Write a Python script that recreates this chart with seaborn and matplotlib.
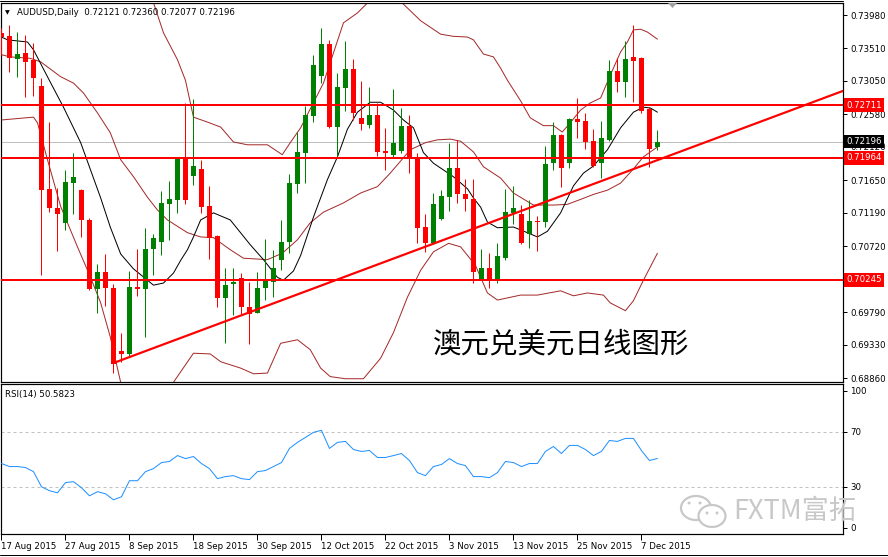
import matplotlib
matplotlib.use("Agg")
import matplotlib.pyplot as plt
import matplotlib.transforms as mtrans
from matplotlib.patches import Ellipse, Polygon
import numpy as np
import pandas as pd
import seaborn as sns

# ---------------- data ----------------
symbol_title = "AUDUSD,Daily"
last_ohlc = ["0.72121", "0.72360", "0.72077", "0.72196"]

opens = [0.73727,0.73684,0.73360,0.73444,0.73346,0.72979,0.71526,0.71258,0.71047,0.71611,
         0.71512,0.71089,0.70116,0.70356,0.70130,0.69242,0.69199,0.70144,0.70116,0.70680,
         0.70779,0.71315,0.71371,0.71964,0.71709,0.71808,0.71287,0.70863,0.69989,0.70187,
         0.70271,0.69862,0.69778,0.70130,0.70215,0.70525,0.70779,0.71597,0.72034,0.72556,
         0.73120,0.73571,0.72401,0.72951,0.73219,0.72528,0.72429,0.72570,0.72062,0.72006,
         0.72062,0.72415,0.71964,0.70990,0.70765,0.71103,0.71414,0.71822,0.71456,0.71385,
         0.70243,0.70413,0.70257,0.70553,0.71188,0.71174,0.70892,0.71075,0.71061,0.71893,
         0.72288,0.71893,0.72514,0.72485,0.72203,0.71893,0.72218,0.73191,0.73035,0.73388,
         0.73374,0.72655,0.72121]
highs = [0.73797,0.73839,0.73741,0.73698,0.73585,0.73092,0.72471,0.71540,0.71794,0.72034,
         0.71526,0.71117,0.70469,0.70610,0.70187,0.69496,0.70370,0.70680,0.70976,0.70892,
         0.71498,0.71639,0.71978,0.72739,0.72796,0.71935,0.71569,0.70878,0.70413,0.70413,
         0.70342,0.70215,0.70356,0.70821,0.70666,0.71089,0.71738,0.72330,0.72697,0.73416,
         0.73797,0.73628,0.73162,0.73614,0.73360,0.73050,0.72965,0.72739,0.72387,0.72937,
         0.72669,0.72570,0.72034,0.71174,0.71470,0.71512,0.72175,0.72218,0.71667,0.71667,
         0.70680,0.70624,0.70765,0.71526,0.71569,0.71301,0.71371,0.71145,0.72133,0.72471,
         0.72302,0.72528,0.72810,0.72598,0.72373,0.72485,0.73346,0.73374,0.73614,0.73839,
         0.73388,0.72683,0.72360]
lows = [0.73416,0.73177,0.73106,0.72824,0.72838,0.70314,0.71202,0.70652,0.70948,0.71174,
        0.70849,0.70102,0.69778,0.69876,0.68931,0.69086,0.69157,0.70017,0.69439,0.70314,
        0.70595,0.70807,0.71188,0.71315,0.71583,0.71188,0.70539,0.69862,0.69354,0.69749,
        0.69749,0.69340,0.69778,0.69961,0.70003,0.70384,0.70624,0.71470,0.71611,0.72471,
        0.73021,0.72390,0.71964,0.72626,0.72499,0.72359,0.72387,0.71992,0.71794,0.71964,
        0.72034,0.71752,0.70765,0.70638,0.70750,0.71089,0.71216,0.71329,0.71216,0.70201,
        0.70243,0.70130,0.70201,0.70525,0.71033,0.70750,0.70694,0.70652,0.70990,0.71794,
        0.71555,0.71822,0.72246,0.72091,0.71837,0.71681,0.72203,0.72894,0.72824,0.72753,
        0.72598,0.71837,0.72077]
closes = [0.73670,0.73374,0.73430,0.73318,0.73092,0.71512,0.71258,0.71174,0.71625,0.71695,
          0.71089,0.70116,0.70356,0.70130,0.69058,0.69199,0.70144,0.70116,0.70680,0.70835,
          0.71329,0.71385,0.71964,0.71371,0.71851,0.71272,0.70835,0.69989,0.70172,0.70215,
          0.69862,0.69764,0.70130,0.70257,0.70413,0.70779,0.71611,0.72048,0.72570,0.73275,
          0.73571,0.72401,0.72965,0.73219,0.72598,0.72443,0.72570,0.72048,0.72034,0.72175,
          0.72415,0.71964,0.70976,0.70765,0.71315,0.71428,0.71822,0.71456,0.71385,0.70356,
          0.70413,0.70243,0.70581,0.71202,0.71258,0.70765,0.71075,0.71061,0.71879,0.72288,
          0.71822,0.72514,0.72471,0.72189,0.71851,0.72246,0.73191,0.73035,0.73360,0.73332,
          0.72626,0.72091,0.72196]

# Bollinger bands / moving average (bar index, price)
upper_x = [16.0,18.9,20.25,22.0,23.0,24.0,25.75,27.4,29.0,30.75,33.25,35.1,36.1,37.4,40.25,42.75,
           44.5,45.75,48.0,50.1,52.4,54.9,56.5,58.25,59.0,60.25,61.5,62.4,63.25,64.9,66.1,67.75,
           69.0,70.1,71.1,72.4,73.6,74.9,76.1,77.4,78.25,79.0,79.9,80.75,82.0]
upper_y = [0.7517,0.7419,0.7373,0.7335,0.7306,0.7254,0.7247,0.7240,0.7219,0.7215,0.7215,0.7201,
           0.7218,0.7239,0.7302,0.7387,0.7401,0.7415,0.7440,0.7415,0.7390,0.7371,0.7368,0.7367,
           0.7363,0.7343,0.7339,0.7323,0.7306,0.7277,0.7253,0.7242,0.7242,0.7233,0.7246,0.7264,
           0.7274,0.7281,0.7313,0.7346,0.7360,0.7377,0.7378,0.7374,0.7364]
middle_x = [0.0,1.1,3.6,4.9,7.4,9.0,10.25,12.0,13.6,14.9,16.5,18.25,19.5,20.75,23.25,24.9,26.5,
            28.6,30.25,33.25,35.1,37.0,38.6,40.25,42.75,44.9,47.0,48.6,51.1,53.0,54.5,56.1,57.4,
            59.0,60.25,62.4,64.0,66.5,69.0,70.75,72.4,74.0,75.75,77.4,79.0,80.25,82.0]
middle_y = [0.7342,0.7339,0.7337,0.7332,0.7311,0.7302,0.7288,0.7260,0.7232,0.7194,0.7170,0.7141,
            0.7123,0.7109,0.7091,0.7085,0.7084,0.7067,0.7055,0.7053,0.7062,0.7081,0.7105,0.7120,
            0.7133,0.7147,0.7156,0.7175,0.7208,0.7218,0.7222,0.7223,0.7220,0.7205,0.7184,0.7168,
            0.7147,0.7130,0.7130,0.7131,0.7138,0.7145,0.7151,0.7161,0.7181,0.7198,0.7212]
lower_x = [0.0,4.0,4.5,5.75,7.4,9.5,11.1,12.4,13.6,14.9,18.25,21.5,24.0,26.1,27.4,29.9,31.5,
           33.25,34.9,37.0,38.6,39.9,41.1,43.0,45.25,47.4,49.0,50.75,52.4,54.0,55.9,57.4,59.25,
           60.75,62.0,64.9,67.0,69.9,71.5,73.25,75.25,76.1,78.0,79.0,80.25,82.0]
lower_y = [0.7250,0.7254,0.7246,0.7194,0.7128,0.7071,0.7029,0.6992,0.6944,0.6880,0.6841,0.6880,
           0.6921,0.6920,0.6909,0.6900,0.6892,0.6893,0.6935,0.6940,0.6926,0.6900,0.6888,0.6885,
           0.6885,0.6914,0.6950,0.7000,0.7038,0.7064,0.7076,0.7071,0.7045,0.7006,0.6996,0.7003,
           0.7003,0.7009,0.7002,0.7006,0.7003,0.6992,0.6981,0.6995,0.7024,0.7062]
ma_x = [0.0,0.75,3.25,4.0,5.75,7.75,9.9,12.4,13.6,14.9,16.5,18.25,19.0,20.25,21.5,22.4,23.25,
        24.0,24.9,26.5,28.6,31.1,32.75,34.5,35.25,36.5,37.4,39.0,40.75,42.0,43.25,44.5,46.1,
        47.4,49.0,50.25,51.5,52.75,54.0,56.5,58.25,59.0,59.9,60.75,62.0,64.0,65.75,67.0,68.25,
        69.9,71.5,72.75,74.0,75.75,77.4,79.0,80.25,81.1,82.0]
ma_y = [0.7367,0.7363,0.7360,0.7349,0.7311,0.7268,0.7218,0.7140,0.7099,0.7061,0.7040,0.7024,
        0.7017,0.7020,0.7034,0.7052,0.7067,0.7085,0.7109,0.7119,0.7109,0.7074,0.7053,0.7028,
        0.7024,0.7037,0.7059,0.7113,0.7166,0.7198,0.7237,0.7261,0.7275,0.7275,0.7264,0.7250,
        0.7239,0.7204,0.7189,0.7170,0.7153,0.7140,0.7127,0.7106,0.7098,0.7099,0.7091,0.7085,
        0.7093,0.7119,0.7157,0.7175,0.7185,0.7208,0.7239,0.7261,0.7268,0.7267,0.7261]

rsi = [46.9,44.7,44.7,44.0,41.0,30.0,27.1,25.6,33.0,33.7,29.3,23.4,26.4,24.9,20.5,22.7,34.4,34.4,
       41.0,43.2,47.6,48.4,52.7,50.5,52.0,46.9,43.2,35.9,37.4,38.1,35.9,35.2,41.0,41.8,44.7,47.6,
       57.9,62.3,65.9,69.6,71.1,57.9,62.3,63.0,57.1,55.7,56.4,51.3,51.3,52.7,54.2,49.1,40.3,38.1,
       44.7,46.2,50.5,46.9,45.4,37.4,37.4,36.6,40.3,48.4,47.6,44.7,46.9,46.9,55.7,59.3,54.2,60.1,
       60.1,57.1,52.7,55.7,63.7,63.0,65.2,65.2,56.4,49.1,50.58]

levels = [0.72711, 0.71964, 0.70245]
level_labels = ["0.72711", "0.71964", "0.70245"]
current_price = 0.72196
trend_x = [14.2, 105.2]
trend_y = [0.6908, 0.7291]

price_ticks = [0.73980, 0.73510, 0.73050, 0.72580, 0.72120, 0.71650, 0.71190,
               0.70720, 0.70250, 0.69790, 0.69330, 0.68860]
# the 0.70250 label sits completely under the 0.70245 line label in the original
price_tick_labels = ["0.73980", "0.73510", "0.73050", "0.72580", "0.72120", "0.71650",
                     "0.71190", "0.70720", "", "0.69790", "0.69330", "0.68860"]
rsi_ticks = [0, 30, 70, 100]
date_ticks = [0, 8, 16, 24, 32, 40, 48, 56, 64, 72, 80]
date_labels = ["17 Aug 2015", "27 Aug 2015", "8 Sep 2015", "18 Sep 2015", "30 Sep 2015",
               "12 Oct 2015", "22 Oct 2015", "3 Nov 2015", "13 Nov 2015", "25 Nov 2015",
               "7 Dec 2015"]
chart_title_cn = "澳元兑美元日线图形"
watermark = "FXTM富拓"

# ---------------- style ----------------
sns.set_theme(style="white")
plt.rcParams["font.family"] = ["DejaVu Sans"]
FS = 6.2
PX = 0.72  # one pixel in points

W, H = 888, 557
fig = plt.figure(figsize=(W / 100, H / 100), dpi=100)
fig.patch.set_facecolor("white")


def rect(x0, y0, x1, y1):
    return [x0 / W, 1 - y1 / H, (x1 - x0) / W, (y1 - y0) / H]


ax = fig.add_axes(rect(1, 3, 843, 382))
axr = fig.add_axes(rect(1, 384, 843, 534))

df = pd.DataFrame({"o": opens, "h": highs, "l": lows, "c": closes})
df["i"] = np.arange(len(df))
bull = df["c"] >= df["o"]
cols = np.where(bull, "#008000", "#ff0000")

# wicks and bodies
ax.vlines(df["i"], df["l"], df["h"], colors=cols, linewidth=PX, zorder=3)
body_lo = np.minimum(df["o"], df["c"])
body_h = np.maximum(np.abs(df["c"] - df["o"]), 0.00012)
ax.bar(df["i"], body_h, bottom=body_lo, width=0.63, color=cols, linewidth=0, zorder=4)

# bands and MA
brown = "#a52a2a"
for xs, ys in ((upper_x, upper_y), (middle_x, middle_y), (lower_x, lower_y)):
    sns.lineplot(x=xs, y=ys, ax=ax, color=brown, linewidth=PX, sort=False,
                 estimator=None, zorder=2)
sns.lineplot(x=ma_x, y=ma_y, ax=ax, color="black", linewidth=PX, sort=False,
             estimator=None, zorder=2)

# horizontal levels, current price, trend line
ax.axhline(current_price, color="#c0c0c0", linewidth=PX, zorder=1)
for lv in levels:
    ax.axhline(lv, color="#ff0000", linewidth=2 * PX, zorder=5)
sns.lineplot(x=trend_x, y=trend_y, ax=ax, color="#ff0000", linewidth=2.2 * PX,
             sort=False, estimator=None, zorder=5)

ax.set_xlim(-0.06, 105.2)
ax.set_ylim(0.68804, 0.74150)
ax.set_xticks([])
ax.yaxis.tick_right()
ax.set_yticks(price_ticks)
ax.set_yticklabels(price_tick_labels)
ax.tick_params(axis="y", length=3, width=PX, pad=2, labelsize=FS, colors="black",
               direction="out")
ax.set_xlabel("")
ax.set_ylabel("")

# price boxes on the axis
tr = mtrans.blended_transform_factory(ax.transAxes, ax.transData)
for lv, lab in zip(levels, level_labels):
    ax.text(1.0035, lv, lab, transform=tr, ha="left", va="center", fontsize=FS,
            color="white", clip_on=False, zorder=10,
            bbox=dict(boxstyle="square,pad=0.28", fc="#ff0000", ec="none"))
ax.text(1.0035, current_price, last_ohlc[3], transform=tr, ha="left", va="center",
        fontsize=FS, color="white", clip_on=False, zorder=10,
        bbox=dict(boxstyle="square,pad=0.28", fc="black", ec="none"))

# header
ax.text(0.005, 0.975, "\u25BC", transform=ax.transAxes, fontsize=4.5, ha="left",
        va="center", color="black")
ax.text(0.019, 0.975, symbol_title + "  " + " ".join(last_ohlc), transform=ax.transAxes,
        fontsize=FS, ha="left", va="center", color="black")

# chinese caption
ax.text(0.665, 0.100, chart_title_cn, transform=ax.transAxes, ha="center", va="center",
        fontsize=20.5, color="black", family=["Noto Sans CJK SC", "DejaVu Sans"],
        fontweight="light")

for a in (ax, axr):
    for s in a.spines.values():
        s.set_color("black")
        s.set_linewidth(PX * 1.2)

# ---------------- RSI panel ----------------
sns.lineplot(x=np.arange(len(rsi)), y=rsi, ax=axr, color="#1e90ff", linewidth=PX,
             sort=False, estimator=None, zorder=3)
for lv in (30, 70):
    axr.axhline(lv, color="#c0c0c0", linewidth=PX, linestyle=(0, (3, 3)), zorder=1)
axr.set_xlim(-0.06, 105.2)
axr.set_ylim(-4.4, 104.8)
axr.yaxis.tick_right()
axr.set_yticks(rsi_ticks)
axr.set_yticklabels([str(t) for t in rsi_ticks])
axr.tick_params(axis="y", length=3, width=PX, pad=2, labelsize=FS, colors="black")
axr.set_xticks(date_ticks)
axr.set_xticklabels(date_labels)
for lab in axr.get_xticklabels():
    lab.set_horizontalalignment("left")
axr.tick_params(axis="x", length=4, width=PX, pad=2, labelsize=FS, colors="black",
                direction="out", bottom=True)
axr.set_xlabel("")
axr.set_ylabel("")
axr.text(0.005, 0.93, "RSI(14) " + "50.5823", transform=axr.transAxes, fontsize=FS,
         ha="left", va="center", color="black")

# ---------------- decorations ----------------
fig.add_artist(plt.Line2D([0, 843 / W], [1 - 1 / H, 1 - 1 / H], color="black",
                          linewidth=PX, transform=fig.transFigure))
fig.add_artist(plt.Line2D([0, 1], [1 - 554.5 / H, 1 - 554.5 / H], color="black",
                          linewidth=PX, transform=fig.transFigure))
# chart shift marker
fig.add_artist(Polygon([[668 / W, 1 - 3 / H], [677 / W, 1 - 3 / H], [672.5 / W, 1 - 8 / H]],
                       closed=True, fc="#a0a0a0", ec="none", transform=fig.transFigure))

# watermark
wm = "#c8c8c8"
fig.text(733 / W, 1 - 511 / H, watermark, fontsize=19.5, color=wm, ha="left", va="center",
         family=["Noto Sans CJK SC", "DejaVu Sans"], fontweight="light")
fig.add_artist(Ellipse((696 / W, 1 - 508 / H), 30 / W, 24 / H, fc="white", ec=wm,
                       lw=1.6, transform=fig.transFigure))
fig.add_artist(Ellipse((712 / W, 1 - 516 / H), 27 / W, 22 / H, fc="white", ec=wm,
                       lw=1.6, transform=fig.transFigure))
for (cx, cy) in [(689, 503), (700, 503), (707, 513), (717, 513)]:
    fig.add_artist(Ellipse((cx / W, 1 - cy / H), 3 / W, 3 / H, fc=wm, ec="none",
                           transform=fig.transFigure))

fig.savefig("out.png", dpi=100, facecolor="white")
